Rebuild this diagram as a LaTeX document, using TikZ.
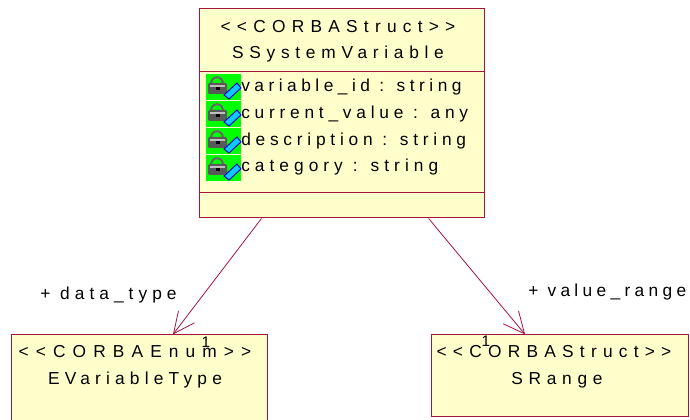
\documentclass[tikz,border=0pt]{standalone}
\usepackage{fontspec}
\setmainfont{Liberation Sans}
\usetikzlibrary{arrows.meta}
\definecolor{umlline}{HTML}{A5133F}
\definecolor{umlfill}{HTML}{FFFFCB}
\definecolor{keycyan}{HTML}{10C8FF}
\newcommand{\spc}[2]{\addfontfeature{LetterSpace=#1}#2}
\tikzset{
  x=0.75pt,y=-0.75pt,
  umlbox/.style={draw=umlline,fill=umlfill,line width=0.75pt,inner sep=0pt,rectangle},
  umltext/.style={inner sep=0pt,anchor=base,font=\fontsize{13}{15}\selectfont,text=black},
  attrtext/.style={umltext,anchor=base west},
  multtext/.style={inner sep=0pt,anchor=base,font=\fontsize{11.5}{13}\selectfont,text=black},
  assoc/.style={draw=umlline,line width=0.6pt,-{Straight Barb[length=16pt,width=15pt,line width=0.6pt]}},
  divider/.style={draw=umlline,line width=0.6pt}
}
\newcommand{\lockicon}[2]{%
  \begin{scope}[shift={(#1,#2)}]
    \fill[green] (0,0) rectangle (35,26);
    \draw[black!60,line width=1.5pt] (5,10) .. controls (5,1) and (17,1) .. (17,10);
    \fill[black!65,rounded corners=1pt] (2,9) rectangle (21,20);
    \fill[black!25] (4,11) rectangle (19,13);
    \fill[black] (10,13) rectangle (14,16);
    \filldraw[fill=keycyan,draw=blue!80!black,line width=0.7pt] (18,21) -- (31,9) -- (35,14) -- (23,25) -- cycle;
  \end{scope}}
\begin{document}
\begin{tikzpicture}
\useasboundingbox (0,0) rectangle (690,420);
\node[umlbox,minimum width=285*0.75pt,minimum height=209*0.75pt] (sv) at (341.5,113.5) {};
\node[umlbox,minimum width=256*0.75pt,minimum height=88*0.75pt] (ev) at (139,379) {};
\node[umlbox,minimum width=257*0.75pt,minimum height=82*0.75pt] (sr) at (559.5,376) {};
\draw[divider] (sv.west |- 0,71) coordinate (d1a) -- (sv.east |- 0,71) coordinate (d1b);
\draw[divider] (sv.west |- 0,192) coordinate (d2a) -- (sv.east |- 0,192) coordinate (d2b);
\draw[assoc] (sv) -- (ev);
\draw[assoc] (sv) -- (sr);
\node[umltext] (t1) at (338,33) {\spc{36}{<{}<CORBAStruct>{}>}};
\node[umltext] (t2) at (338,59) {\spc{33}{SSystemVariable}};
\lockicon{206}{74}
\lockicon{206}{101}
\lockicon{206}{128}
\lockicon{206}{155}
\node[attrtext] (a1) at (241,92) {\spc{26}{variable\_id : string}};
\node[attrtext] (a2) at (241,119) {\spc{27.5}{current\_value : any}};
\node[attrtext] (a3) at (241,146) {\spc{27.5}{description : string}};
\node[attrtext] (a4) at (241,172) {\spc{29}{category : string}};
\node[umltext] (e1) at (135,358) {\spc{41}{<{}<CORBAEnum>{}>}};
\node[umltext] (e2) at (135,385) {\spc{30}{EVariableType}};
\node[umltext] (r1) at (554,358) {\spc{36}{<{}<CORBAStruct>{}>}};
\node[umltext] (r2) at (557,385) {\spc{33}{SRange}};
\node[attrtext] (l1) at (40,300) {\spc{29}{+ data\_type}};
\node[attrtext] (l2) at (528,297) {\spc{25}{+ value\_range}};
\node[multtext] (m1) at (206,348) {1};
\node[multtext] (m2) at (486,347) {1};
\end{tikzpicture}
\end{document}
